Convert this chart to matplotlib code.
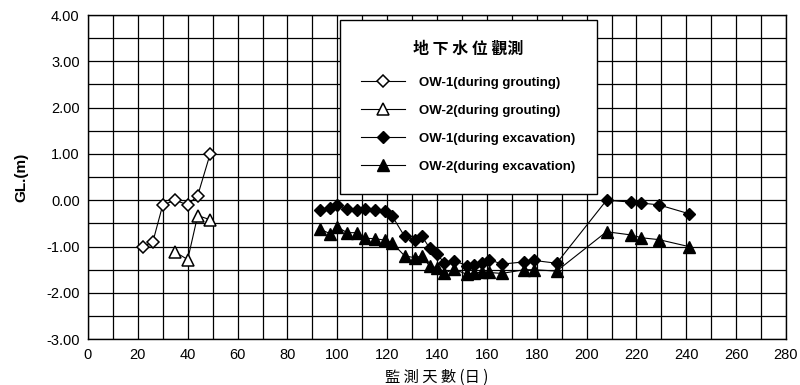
import matplotlib.pyplot as plt
from matplotlib.lines import Line2D
import numpy as np

plt.rcParams['font.family'] = ['Liberation Sans', 'Noto Sans CJK TC', 'DejaVu Sans']

# grouting stage
grout_days_1 = [22, 26, 30, 35, 40, 44, 49]
grout_ow1 = [-1.00, -0.90, -0.10, 0.00, -0.10, 0.10, 1.00]
grout_days_2 = [35, 40, 44, 49]
grout_ow2 = [-1.12, -1.28, -0.33, -0.42]

# excavation stage
exc_days = [93, 97, 100, 104, 108, 111, 115, 119, 122, 127, 131, 134, 137, 140,
            143, 147, 152, 155, 158, 161, 166, 175, 179, 188, 208, 218, 222, 229, 241]
exc_ow1 = [-0.20, -0.16, -0.10, -0.19, -0.20, -0.19, -0.20, -0.24, -0.34, -0.78,
           -0.85, -0.78, -1.03, -1.17, -1.35, -1.31, -1.41, -1.39, -1.35, -1.28,
           -1.38, -1.33, -1.30, -1.36, 0.00, -0.04, -0.06, -0.10, -0.29]
exc_ow2 = [-0.62, -0.72, -0.58, -0.70, -0.70, -0.82, -0.83, -0.86, -0.92, -1.20,
           -1.24, -1.20, -1.42, -1.46, -1.57, -1.49, -1.60, -1.57, -1.55, -1.56,
           -1.58, -1.50, -1.50, -1.53, -0.68, -0.75, -0.81, -0.85, -1.00]

legend_title = '地 下 水 位 觀測'
labels = ['OW-1(during grouting)', 'OW-2(during grouting)',
          'OW-1(during excavation)', 'OW-2(during excavation)']

fig = plt.figure(figsize=(8, 3.85), dpi=100)
ax = fig.add_axes([0.11, 0.119, 0.8725, 0.842])

ax.plot(grout_days_1, grout_ow1, color='black', lw=0.8, marker='D', ms=6.5,
        mfc='white', mec='black', mew=1.1, zorder=3)
ax.plot(grout_days_2, grout_ow2, color='black', lw=0.8, marker='^', ms=8.5,
        mfc='white', mec='black', mew=1.1, zorder=3)
ax.plot(exc_days, exc_ow1, color='black', lw=0.8, marker='D', ms=6.5,
        mfc='black', mec='black', zorder=3)
ax.plot(exc_days, exc_ow2, color='black', lw=0.8, marker='^', ms=8.5,
        mfc='black', mec='black', zorder=3)

ax.set_xlim(0, 280)
ax.set_ylim(-3, 4)
ax.set_xticks(np.arange(0, 281, 20))
ax.set_xticks(np.arange(0, 281, 10), minor=True)
ax.set_yticks(np.arange(-3, 4.01, 1))
ax.set_yticks(np.arange(-3, 4.01, 0.5), minor=True)
ax.set_yticklabels(['%.2f' % v for v in np.arange(-3, 4.01, 1)])
ax.grid(which='both', color='black', lw=0.9)
ax.set_axisbelow(True)
ax.tick_params(which='both', length=0, labelsize=10.5, pad=6)
for s in ax.spines.values():
    s.set_linewidth(1.0)

ax.set_xlabel('監 測 天 數 (日 )', fontsize=11, family=['Noto Sans CJK TC'], labelpad=5)
ax.set_ylabel('GL.(m)', fontsize=11, fontweight='bold', labelpad=13)

handles = [
    Line2D([], [], color='black', lw=0.8, marker='D', ms=6.5, mfc='white', mec='black', mew=1.1),
    Line2D([], [], color='black', lw=0.8, marker='^', ms=8.5, mfc='white', mec='black', mew=1.1),
    Line2D([], [], color='black', lw=0.8, marker='D', ms=6.5, mfc='black', mec='black'),
    Line2D([], [], color='black', lw=0.8, marker='^', ms=8.5, mfc='black', mec='black'),
]
leg = ax.legend(handles, labels, loc='upper left', bbox_to_anchor=(0.361, 0.985),
                title=legend_title, fancybox=False, shadow=False, framealpha=1,
                edgecolor='black', prop={'weight': 'bold', 'size': 9.5},
                handlelength=3.3, handletextpad=1.1, labelspacing=1.2,
                borderpad=1.6, borderaxespad=0)
leg.get_title().set_fontproperties({'family': ['Noto Sans CJK TC'], 'weight': 'bold', 'size': 11.5})
leg._legend_box.sep = 14
leg.get_frame().set_linewidth(1.0)
leg.set_zorder(5)

fig.savefig('out.png', dpi=100)
